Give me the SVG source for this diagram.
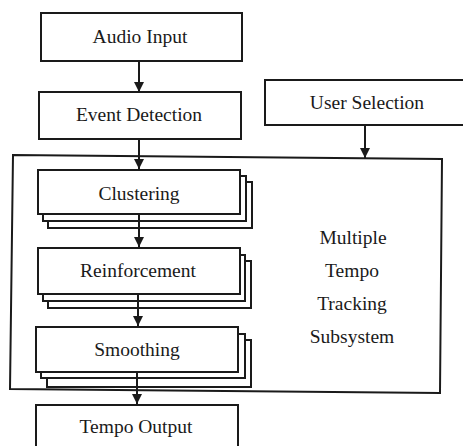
<svg xmlns="http://www.w3.org/2000/svg" width="463" height="446" viewBox="0 0 463 446">
<defs>
<style>
.box{fill:#fff;stroke:#1a1a1a;stroke-width:2}
.frame{fill:none;stroke:#1a1a1a;stroke-width:2}
.lbl{font-family:"Liberation Serif","Times New Roman",serif;font-size:19.5px;fill:#1a1a1a;text-anchor:middle}
.conn{stroke:#1a1a1a;stroke-width:2;fill:none}
</style>
<marker id="ah" viewBox="0 0 10 10" refX="10" refY="5" markerWidth="5" markerHeight="5" markerUnits="strokeWidth" orient="auto">
<path d="M0,0 L10,5 L0,10 Z" fill="#1a1a1a"/>
</marker>
</defs>
<rect width="463" height="446" fill="#fff"/>
<g id="subsystem">
<path class="frame" d="M13,155 L442,159 L440,393 L10,389 Z"/>
<text class="lbl" x="353" y="244">Multiple</text>
<text class="lbl" x="352" y="277">Tempo</text>
<text class="lbl" x="352" y="310">Tracking</text>
<text class="lbl" x="352" y="343">Subsystem</text>
</g>
<g id="audio-input">
<rect class="box" x="41" y="13" width="201" height="48"/>
<text class="lbl" x="140" y="43">Audio Input</text>
</g>
<g id="event-detection">
<rect class="box" x="39" y="92" width="202" height="47"/>
<text class="lbl" x="139" y="121">Event Detection</text>
</g>
<g id="user-selection">
<rect class="box" x="265" y="80" width="205" height="45"/>
<text class="lbl" x="367" y="109">User Selection</text>
</g>
<g id="clustering">
<rect class="box" x="48" y="182" width="204" height="46"/>
<rect class="box" x="43" y="176" width="203" height="45"/>
<rect class="box" x="38" y="170" width="202" height="44"/>
<text class="lbl" x="139" y="200">Clustering</text>
</g>
<g id="reinforcement">
<rect class="box" x="48" y="261" width="203" height="47"/>
<rect class="box" x="43" y="255" width="202" height="46"/>
<rect class="box" x="38" y="248" width="202" height="46"/>
<text class="lbl" x="138" y="277">Reinforcement</text>
</g>
<g id="smoothing">
<rect class="box" x="47" y="340" width="204" height="47"/>
<rect class="box" x="41" y="334" width="204" height="44"/>
<rect class="box" x="36" y="327" width="202" height="45"/>
<text class="lbl" x="137" y="356">Smoothing</text>
</g>
<g id="tempo-output">
<rect class="box" x="36" y="405" width="202" height="48"/>
<text class="lbl" x="136" y="433">Tempo Output</text>
</g>
<g id="connectors">
<line class="conn" x1="139" y1="61" x2="139" y2="92" marker-end="url(#ah)"/>
<line class="conn" x1="139" y1="139" x2="139" y2="169" marker-end="url(#ah)"/>
<line class="conn" x1="365" y1="125" x2="365" y2="158" marker-end="url(#ah)"/>
<line class="conn" x1="139" y1="214" x2="139" y2="247" marker-end="url(#ah)"/>
<line class="conn" x1="138" y1="294" x2="138" y2="326" marker-end="url(#ah)"/>
<line class="conn" x1="137" y1="372" x2="137" y2="404" marker-end="url(#ah)"/>
</g>
</svg>
